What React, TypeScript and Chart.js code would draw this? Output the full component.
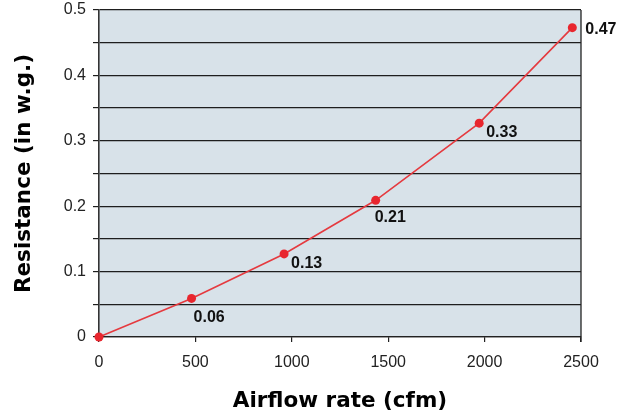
import React, { useEffect, useRef } from "react";
import { Chart, registerables } from "chart.js";

Chart.register(...registerables);

const airflow = [0, 480, 960, 1435, 1972, 2455];
const resistance = [0, 0.059, 0.127, 0.209, 0.327, 0.473];
const pointLabels = ["", "0.06", "0.13", "0.21", "0.33", "0.47"];
const xTicks = [0, 500, 1000, 1500, 2000, 2500];
const yTickLabels = ["0", "0.1", "0.2", "0.3", "0.4", "0.5"];
const xTitle = "Airflow rate (cfm)";
const yTitle = "Resistance (in w.g.)";

const labelOffsets = [
  [0, 0],
  [2, 19],
  [7, 10],
  [-1, 17],
  [7, 9],
  [13, 2],
];

const FONT = "'Liberation Sans', Arial, Helvetica, sans-serif";
const BOLD = "'DejaVu Sans', 'Liberation Sans', sans-serif";

const bgPlugin = {
  id: "plotBg",
  beforeDraw(chart: any) {
    const { ctx, chartArea } = chart;
    ctx.save();
    ctx.fillStyle = "#d8e2e9";
    ctx.fillRect(chartArea.left, chartArea.top, chartArea.right - chartArea.left, chartArea.bottom - chartArea.top);
    ctx.restore();
  },
  afterDraw(chart: any) {
    const { ctx, chartArea } = chart;
    ctx.save();
    ctx.strokeStyle = "#222";
    ctx.lineWidth = 1.3;
    ctx.beginPath();
    ctx.moveTo(chartArea.right, chartArea.top);
    ctx.lineTo(chartArea.right, chartArea.bottom + 5);
    ctx.stroke();
    ctx.restore();
  },
};

const labelPlugin = {
  id: "pointLabels",
  afterDatasetsDraw(chart: any) {
    const { ctx } = chart;
    const meta = chart.getDatasetMeta(0);
    ctx.save();
    ctx.font = `bold 16px ${FONT}`;
    ctx.fillStyle = "#111";
    ctx.textAlign = "left";
    ctx.textBaseline = "middle";
    meta.data.forEach((pt: any, i: number) => {
      const t = pointLabels[i];
      if (!t) return;
      const [dx, dy] = labelOffsets[i];
      ctx.fillText(t, pt.x + dx, pt.y + dy);
    });
    ctx.restore();
  },
};

export default function App() {
  const ref = useRef<HTMLCanvasElement>(null);
  useEffect(() => {
    document.body.style.margin = "0";
    const chart = new Chart(ref.current!, {
      type: "line",
      data: {
        datasets: [
          {
            data: airflow.map((x, i) => ({ x, y: resistance[i] })),
            borderColor: "#e53a3f",
            backgroundColor: "#e8262e",
            borderWidth: 1.6,
            pointRadius: 4.5,
            pointBorderWidth: 0,
            pointBackgroundColor: "#e8262e",
            tension: 0,
            clip: false as any,
          },
        ],
      },
      options: {
        animation: false,
        responsive: false,
        devicePixelRatio: 1,
        layout: { padding: { top: 10, right: 47, left: 0, bottom: 0 } },
        plugins: { legend: { display: false }, tooltip: { enabled: false } },
        scales: {
          x: {
            type: "linear",
            min: 0,
            max: 2500,
            afterBuildTicks(axis: any) {
              axis.ticks = xTicks.map((v) => ({ value: v }));
            },
            afterFit(axis: any) {
              axis.height = 80;
              axis.paddingLeft = 0;
              axis.paddingRight = 0;
            },
            ticks: {
              color: "#222",
              font: { family: FONT, size: 16 },
              padding: 11,
              maxRotation: 0,
              callback: (v: any) => String(v),
            },
            grid: {
              drawOnChartArea: false,
              drawTicks: true,
              tickLength: 5,
              color: "#222",
              lineWidth: 1.2,
            },
            border: { display: true, color: "#222", width: 1.3 },
            title: {
              display: true,
              text: xTitle,
              color: "#000",
              font: { family: BOLD, size: 21.5, weight: "bold" },
              padding: { top: 0, bottom: 3 },
            },
          },
          y: {
            type: "linear",
            min: 0,
            max: 0.5,
            afterBuildTicks(axis: any) {
              const t = [];
              for (let i = 0; i <= 10; i++) t.push({ value: i * 0.05 });
              axis.ticks = t;
            },
            afterFit(axis: any) {
              axis.width = 99;
              axis.paddingTop = 0;
              axis.paddingBottom = 0;
            },
            ticks: {
              color: "#222",
              font: { family: FONT, size: 16 },
              padding: 7,
              autoSkip: false,
              callback: (_v: any, i: number) => (i % 2 === 0 ? yTickLabels[i / 2] : ""),
            },
            grid: {
              drawOnChartArea: true,
              drawTicks: true,
              tickLength: 6,
              color: "#1e1e1e",
              lineWidth: 1.2,
            },
            border: { display: true, color: "#333", width: 1.6 },
            title: {
              display: true,
              text: yTitle,
              color: "#000",
              font: { family: BOLD, size: 21.5, weight: "bold" },
              padding: { top: 12, bottom: 0 },
            },
          },
        },
      },
      plugins: [bgPlugin, labelPlugin],
    });
    return () => chart.destroy();
  }, []);
  return (
    <div style={{ position: "absolute", left: 0, top: 0, width: 628, height: 417, background: "#fff" }}>
      <canvas ref={ref} width={628} height={417} style={{ width: 628, height: 417 }} />
    </div>
  );
}
